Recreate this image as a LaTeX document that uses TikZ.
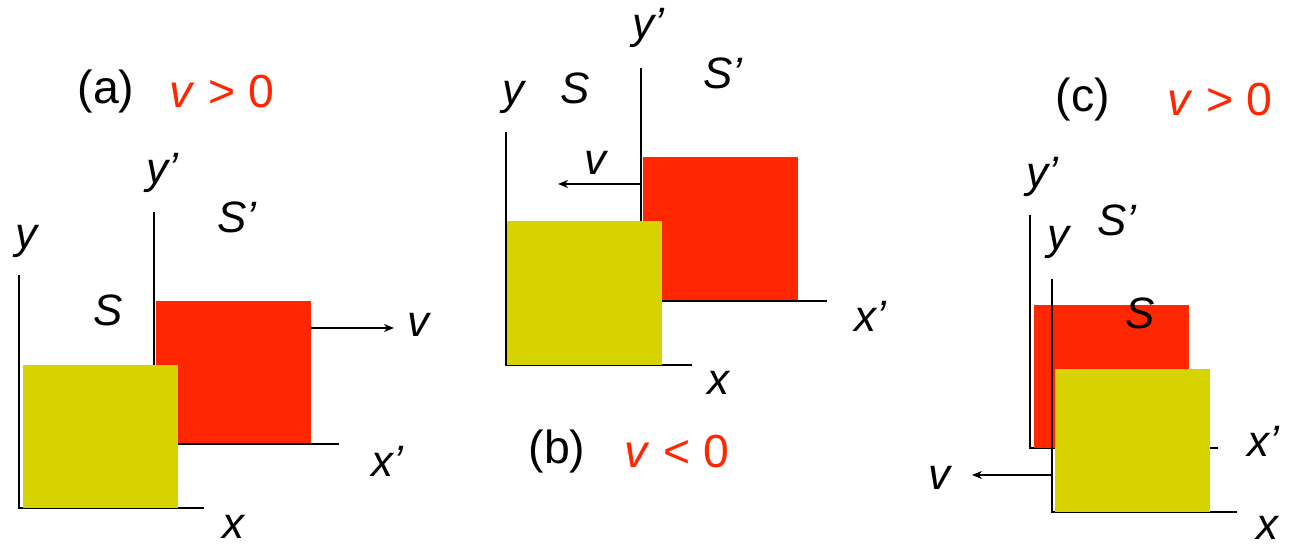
\documentclass[tikz,border=0pt]{standalone}
\usepackage{fontspec}
\setmainfont{Liberation Sans}
\usetikzlibrary{arrows.meta}
\definecolor{boxred}{RGB}{255,38,0}
\definecolor{boxyellow}{RGB}{214,211,0}
\tikzset{
  axis/.style={line width=0.45pt, black},
  lbl/.style={font=\fontsize{12.5}{15}\selectfont\itshape, inner sep=0pt},
  ttl/.style={font=\fontsize{13.2}{15}\selectfont, inner sep=0pt},
  velo/.style={line width=0.45pt, -{Stealth[length=1mm,width=0.8mm]}},
}
\begin{document}
\begin{tikzpicture}[x=0.1mm,y=-0.1mm]
\useasboundingbox (0,0) rectangle (1291,546);
% (a)
\coordinate (oap) at (154,444);
\coordinate (oa) at (19,508);
\draw[axis] (154,212) -- (oap) -- (339,444);
\fill[boxred] (156,301) rectangle (311,443);
\draw[axis] (19,275) -- (oa) -- (204,508);
\fill[boxyellow] (23,365) rectangle (178,508);
\coordinate (va1) at (311,328);
\coordinate (va2) at (394,328);
\draw[velo] (va1) -- (va2);
\node[ttl] (tita) at (106,92) {(a)};
\node[ttl,text=boxred] (conda) at (222,92) {\textit{v} > 0};
\node[lbl] (ya) at (26,241) {y};
\node[lbl] (xa) at (233,527) {x};
\node[lbl] (ypa) at (162,173) {y’};
\node[lbl] (xpa) at (387,461) {x’};
\node[lbl] (sa) at (108,310) {S};
\node[lbl] (spa) at (237,217) {S’};
\node[lbl] (va) at (418,325) {v};
% (b)
\coordinate (obp) at (641,301);
\coordinate (ob) at (506,365);
\draw[axis] (641,68) -- (obp) -- (827,301);
\fill[boxred] (643,157) rectangle (798,300);
\draw[axis] (506,132) -- (ob) -- (692,365);
\fill[boxyellow] (507,221) rectangle (662,365);
\coordinate (vb1) at (641,184);
\coordinate (vb2) at (558,184);
\draw[velo] (vb1) -- (vb2);
\node[ttl] (titb) at (557,452) {(b)};
\node[ttl,text=boxred] (condb) at (677,452) {\textit{v} < 0};
\node[lbl] (yb) at (513,97) {y};
\node[lbl] (xb) at (718,383) {x};
\node[lbl] (ypb) at (648,28) {y’};
\node[lbl] (xpb) at (870,316) {x’};
\node[lbl] (sb) at (575,88) {S};
\node[lbl] (spb) at (723,73) {S’};
\node[lbl] (vb) at (595,163) {v};
% (c)
\coordinate (ocp) at (1030,448);
\coordinate (oc) at (1052,512);
\draw[axis] (1030,215) -- (ocp) -- (1218,448);
\fill[boxred] (1034,305) rectangle (1189,448);
\draw[axis] (1052,279) -- (oc) -- (1237,512);
\fill[boxyellow] (1055,369) rectangle (1210,512);
\coordinate (vc1) at (1052,475);
\coordinate (vc2) at (972,475);
\draw[velo] (vc1) -- (vc2);
\node[ttl] (titc) at (1083,100) {(c)};
\node[ttl,text=boxred] (condc) at (1220,100) {\textit{v} > 0};
\node[lbl] (yc) at (1058,242) {y};
\node[lbl] (xc) at (1267,528) {x};
\node[lbl] (ypc) at (1042,177) {y’};
\node[lbl] (xpc) at (1263,441) {x’};
\node[lbl] (sc) at (1140,313) {S};
\node[lbl] (spc) at (1117,220) {S’};
\node[lbl] (vc) at (939,478) {v};
\end{tikzpicture}
\end{document}
